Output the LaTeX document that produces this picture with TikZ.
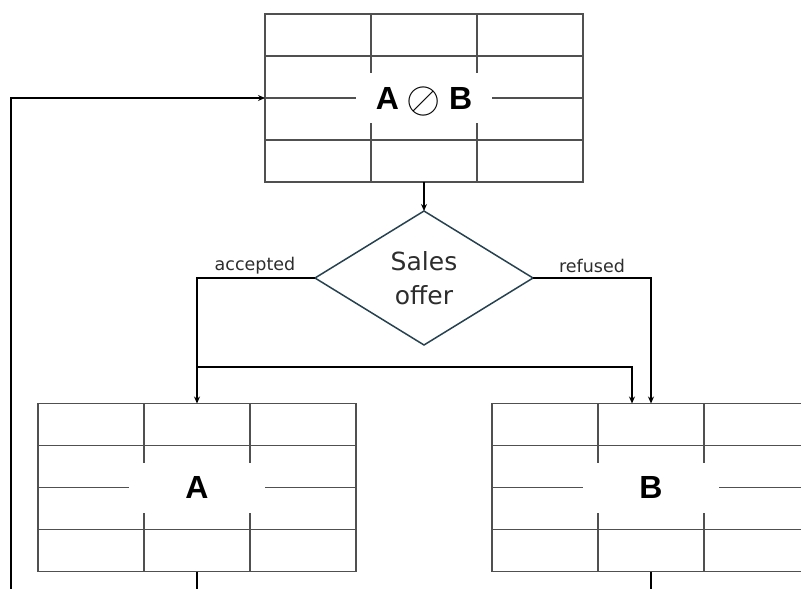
\RequirePackage{fix-cm}
\documentclass[tikz,border=0pt]{standalone}
\usepackage{fontspec}
\setmainfont{DejaVu Sans}
\newfontfamily\lblfont{Liberation Sans}
\usetikzlibrary{shapes.geometric,arrows.meta,calc}

\definecolor{gridline}{RGB}{80,80,80}
\definecolor{diaedge}{RGB}{38,66,80}
\definecolor{txt}{RGB}{45,45,45}

\tikzset{
  tbl/.style={draw=gridline, line width=1.2pt, minimum width=318pt,
    minimum height=168pt, inner sep=0pt, outer sep=0pt},
  gridrule/.style={draw=gridline, line width=1.2pt},
  tbllabel/.style={fill=white, minimum width=136pt, minimum height=50pt,
    inner sep=0pt, font=\lblfont\bfseries\fontsize{32}{36}\selectfont},
  decision/.style={diamond, draw=diaedge, line width=1.5pt, inner sep=0pt,
    outer sep=0pt, minimum width=218pt, minimum height=134pt, align=center,
    text=txt, font=\fontsize{25}{34}\selectfont},
  branchlbl/.style={text=txt, font=\fontsize{17.5}{20}\selectfont, inner sep=0pt},
  conn/.style={line width=1.3pt, -{Stealth[length=7pt,width=6pt]}},
  plain/.style={line width=1.3pt},
}

% inner rules of a 3-column, 4-row table drawn on node #1
\newcommand\tablegrid[1]{%
  \foreach \f in {1,2}
    \draw[gridrule] ($(#1.north west)!\f/3!(#1.north east)$) --
                    ($(#1.south west)!\f/3!(#1.south east)$);
  \foreach \f in {1,2,3}
    \draw[gridrule] ($(#1.north west)!\f/4!(#1.south west)$) --
                    ($(#1.north east)!\f/4!(#1.south east)$);
}

\begin{document}
\begin{tikzpicture}[x=1pt,y=-1pt]
  \useasboundingbox (0,0) rectangle (801,589);
  \clip (0,0) rectangle (801,589);

  % tables
  \node[tbl] (top) at (424,98) {};
  \tablegrid{top}
  \node[tbllabel] (toplbl) at (424,98)
    {A\hspace{8pt}\smash{\raisebox{-3pt}{\fontsize{44}{48}\selectfont$\oslash$}}\hspace{8pt}B};

  \node[tbl] (ta) at (197,487.5) {};
  \tablegrid{ta}
  \node[tbllabel] (talbl) at (197,487.5) {A};

  \node[tbl] (tb) at (651,487.5) {};
  \tablegrid{tb}
  \node[tbllabel] (tblbl) at (651,487.5) {B};

  % decision
  \node[decision] (offer) at (424,278) {Sales\\offer};

  % branch labels
  \node[branchlbl] (acc) at (255,266) {accepted};
  \node[branchlbl] (ref) at (592,266) {refused};

  % connectors
  \draw[conn] (top.south) -- (offer.north);
  \draw[conn] (offer.west) -| (ta.north);
  \coordinate (split) at (ta.north |- 0,367);
  \coordinate (bleft) at (632,0);
  \draw[conn] (split) -| (bleft |- tb.north);
  \draw[conn] (offer.east) -| (tb.north);

  % feedback loop and outgoing lines
  \coordinate (loopbot) at (11,589);
  \draw[conn] (loopbot) |- (top.west);
  \coordinate (abot) at (ta.south |- 0,589);
  \coordinate (bbot) at (tb.south |- 0,589);
  \draw[plain] (ta.south) -- (abot);
  \draw[plain] (tb.south) -- (bbot);
\end{tikzpicture}
\end{document}
